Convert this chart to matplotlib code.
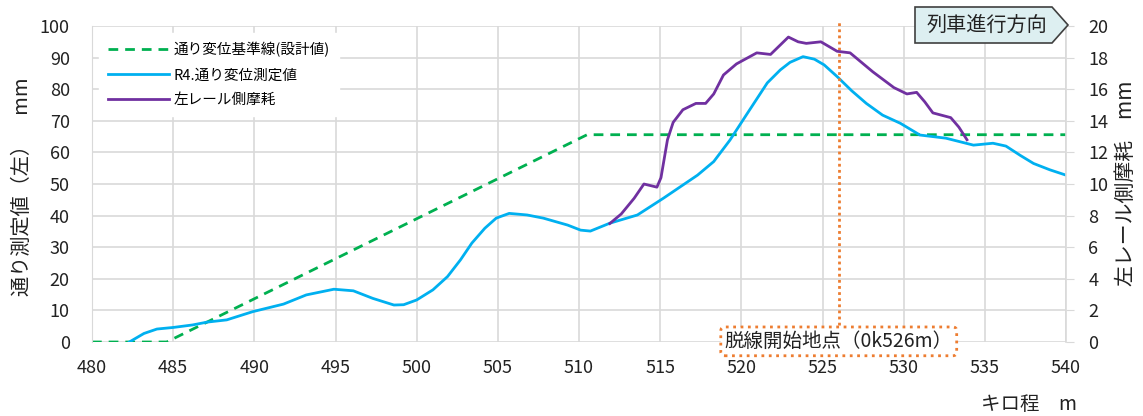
import matplotlib
matplotlib.use("Agg")
import matplotlib.pyplot as plt
from matplotlib.patches import Polygon

plt.rcParams['font.family'] = ['Noto Sans CJK JP', 'DejaVu Sans']

# Data
base_x = [480, 484.6, 510.5, 540]
base_y = [0, 0, 65.6, 65.6]

meas_x = [482.3, 483.2, 484.0, 485.0, 486.2, 487.1, 488.3, 489.9, 491.8, 493.2,
          494.9, 496.1, 497.3, 498.6, 499.2, 500.0, 501.0, 501.9, 502.7, 503.4,
          504.2, 504.9, 505.7, 506.8, 507.8, 509.3, 510.1, 510.7, 511.9, 513.6,
          515.2, 517.3, 518.3, 519.3, 520.3, 521.6, 522.4, 523.0, 523.8, 524.5,
          525.1, 525.9, 526.8, 527.7, 528.7, 529.8, 531.0, 532.6, 534.3, 535.5,
          536.3, 537.2, 538.0, 539.0, 540.0]
meas_y = [0.0, 2.7, 4.1, 4.6, 5.4, 6.3, 7.0, 9.6, 12.0, 14.9,
          16.7, 16.2, 13.8, 11.7, 11.8, 13.3, 16.5, 20.7, 26.0, 31.3,
          36.0, 39.2, 40.7, 40.2, 39.2, 37.0, 35.4, 35.1, 37.6, 40.2,
          45.5, 52.8, 57.1, 63.9, 71.8, 82.0, 86.1, 88.5, 90.3, 89.5,
          87.7, 84.0, 79.5, 75.5, 71.8, 69.2, 65.5, 64.5, 62.3, 62.9,
          62.0, 59.0, 56.5, 54.5, 52.8]

wear_x = [511.9, 512.6, 513.4, 514.0, 514.4, 514.8, 515.05, 515.25, 515.45, 515.8,
          516.4, 517.2, 517.8, 518.3, 518.9, 519.7, 520.95, 521.8, 522.4, 522.9,
          523.5, 524.0, 524.9, 525.4, 525.9, 526.7, 527.4, 528.1, 529.4, 530.2,
          530.8, 531.3, 531.8, 532.9, 533.4, 533.9]
wear_y = [7.5, 8.1, 9.1, 10.0, 9.9, 9.8, 10.4, 11.6, 12.8, 13.9,
          14.7, 15.1, 15.1, 15.7, 16.9, 17.6, 18.3, 18.2, 18.8, 19.3,
          19.0, 18.9, 19.0, 18.7, 18.4, 18.3, 17.7, 17.1, 16.1, 15.7,
          15.8, 15.2, 14.5, 14.2, 13.6, 12.8]

derail_x = 526
xticks = list(range(480, 541, 5))
yticks_left = list(range(0, 101, 10))
yticks_right = list(range(0, 21, 2))

W, H = 1143, 416
fig = plt.figure(figsize=(W / 100, H / 100), dpi=100)
ax = fig.add_axes([92 / W, 1 - 342 / H, (1066 - 92) / W, (342 - 26) / H])
ax2 = ax.twinx()

grid_c = '#D9D9D9'
ax.set_xlim(480, 540)
ax.set_ylim(0, 100)
ax2.set_ylim(0, 20)
ax.set_xticks(xticks)
ax.set_yticks(yticks_left)
ax2.set_yticks(yticks_right)
ax.grid(True, color=grid_c, linewidth=1.2)
ax.set_axisbelow(True)
for a in (ax, ax2):
    for s in a.spines.values():
        s.set_visible(False)
ax2.spines['right'].set_visible(True)
ax2.spines['right'].set_color(grid_c)
ax2.spines['right'].set_linewidth(1.2)
ax.spines['left'].set_visible(True)
ax.spines['left'].set_color(grid_c)
ax.tick_params(axis='y', length=0, labelsize=13, colors='#222222', pad=16)
ax.tick_params(axis='x', length=0, labelsize=13, colors='#222222', pad=12)
ax2.tick_params(axis='y', length=6, color=grid_c, labelsize=13, labelcolor='#222222', pad=10)

l1, = ax.plot(base_x, base_y, color='#00B050', lw=2, dashes=(3.5, 2.5), label='通り変位基準線(設計値)')
l2, = ax.plot(meas_x, meas_y, color='#00B0F0', lw=2, label='R4.通り変位測定値')
l3, = ax2.plot(wear_x, wear_y, color='#7030A0', lw=2, label='左レール側摩耗')

# derailment marker line
ax.plot([derail_x, derail_x], [5.5, 101.8], color='#ED7D31', lw=2, linestyle=(0, (1, 1.2)), clip_on=False, zorder=5)
ax.text(derail_x, 0.2, '脱線開始地点（0k526m）', ha='center', va='center', fontsize=14, color='#222222',
        zorder=6, bbox=dict(boxstyle='round,pad=0.2,rounding_size=0.2', fc='white', ec='#ED7D31', lw=2, ls=':'))

leg = ax2.legend(handles=[l1, l2, l3], loc='upper left', bbox_to_anchor=(0.0, 1.0), frameon=True,
                 fontsize=10.5, handlelength=4.2, borderpad=0.6, labelspacing=0.75, handletextpad=0.3)
leg.get_frame().set_edgecolor('white')
leg.get_frame().set_facecolor('white')
leg.get_frame().set_alpha(1)

# direction arrow box
pts_px = [(915, 7), (1052, 7), (1068, 25), (1052, 43), (915, 43)]
poly = Polygon([(x / W, 1 - y / H) for x, y in pts_px], closed=True, transform=fig.transFigure,
               facecolor='#DDEFF1', edgecolor='#404040', lw=1.2, zorder=10)
fig.add_artist(poly)
fig.text(987 / W, 1 - 25 / H, '列車進行方向', ha='center', va='center', fontsize=14.5, color='#222222', zorder=11)

fig.text(22 / W, 1 - 187 / H, '通り測定値（左）　mm', rotation=90, ha='center', va='center', fontsize=14.5, color='#222222')
fig.text(1126 / W, 1 - 183 / H, '左レール側摩耗　mm', rotation=90, ha='center', va='center', fontsize=15, color='#222222')
fig.text(1029 / W, 1 - 404 / H, 'キロ程　m', ha='center', va='center', fontsize=14, color='#222222')

fig.savefig('out.png', dpi=100, facecolor='white')
